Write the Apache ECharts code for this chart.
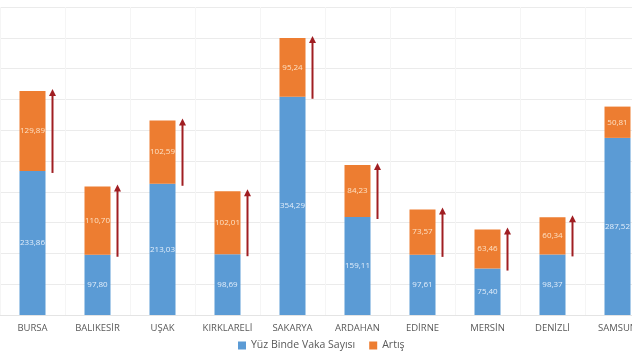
<!DOCTYPE html>
<html>
<head>
<meta charset="utf-8">
<script src="https://cdn.jsdelivr.net/npm/echarts@6/dist/echarts.min.js"></script>
<style>html,body{margin:0;padding:0;background:#fff;overflow:hidden;width:632px;height:356px}#c{width:650px;height:356px}</style>
</head>
<body>
<div id="c"></div>
<script>
var categories = ['BURSA','BALIKESİR','UŞAK','KIRKLARELİ','SAKARYA','ARDAHAN','EDİRNE','MERSİN','DENİZLİ','SAMSUN'];
var baseValues = [233.86, 97.80, 213.03, 98.69, 354.29, 159.11, 97.61, 75.40, 98.37, 287.52];
var increaseValues = [129.89, 110.70, 102.59, 102.01, 95.24, 84.23, 73.57, 63.46, 60.34, 50.81];
var arrowIndexes = [0,1,2,3,4,5,6,7,8];

var chart = echarts.init(document.getElementById('c'), null, {renderer:'canvas'});
function fmt(v){ return v.toFixed(2).replace('.', ','); }
var arrowData = arrowIndexes.map(function(i){ return [i, baseValues[i], baseValues[i] + increaseValues[i]]; });
chart.setOption({
  animation: false,
  grid: {left: 0, right: 0, top: 7, bottom: 41, containLabel: false},
  legend: {
    bottom: 0, left: 233, itemWidth: 8, itemHeight: 8, itemGap: 14,
    icon: 'rect',
    textStyle: {fontFamily: 'Open Sans', fontSize: 10.5, color: '#595959'},
    data: ['Yüz Binde Vaka Sayısı', 'Artış']
  },
  xAxis: {
    type: 'category', data: categories,
    axisLine: {show: true, lineStyle: {color: '#e4e4e4'}},
    axisTick: {show: false},
    axisLabel: {fontFamily: 'Open Sans', fontSize: 9.5, color: '#595959', margin: 8},
    splitLine: {show: true, lineStyle: {color: '#f5f5f5'}}
  },
  yAxis: {
    type: 'value', min: 0, max: 500, interval: 50,
    axisLabel: {show: false}, axisLine: {show: false}, axisTick: {show: false},
    splitLine: {lineStyle: {color: '#ebebeb'}}
  },
  series: [
    {
      name: 'Yüz Binde Vaka Sayısı', type: 'bar', stack: 's', data: baseValues, barWidth: '40%',
      itemStyle: {color: '#5B9BD5'},
      label: {show: true, position: 'inside', fontFamily: 'Open Sans', fontSize: 8, color: '#e3eefa',
        formatter: function(p){ return fmt(p.value); }}
    },
    {
      name: 'Artış', type: 'bar', stack: 's', data: increaseValues, barWidth: '40%',
      itemStyle: {color: '#ED7D31'},
      label: {show: true, position: 'inside', fontFamily: 'Open Sans', fontSize: 8, color: '#fde2c6',
        formatter: function(p){ return fmt(p.value); }}
    },
    {
      name: 'arrows', type: 'custom', data: arrowData, encode: {x: 0, y: [1, 2]}, silent: true, z: 5,
      renderItem: function(params, api){
        var p1 = api.coord([api.value(0), api.value(1)]);
        var p2 = api.coord([api.value(0), api.value(2)]);
        var x = p1[0] + 20;
        var yb = p1[1] + 2, yt = p2[1] - 2;
        return {type: 'group', children: [
          {type: 'line', shape: {x1: x, y1: yb, x2: x, y2: yt + 6}, style: {stroke: '#A01E22', lineWidth: 2}},
          {type: 'polygon', shape: {points: [[x - 3.5, yt + 7], [x + 3.5, yt + 7], [x, yt]]}, style: {fill: '#A01E22'}}
        ]};
      }
    }
  ]
});
</script>
</body>
</html>
